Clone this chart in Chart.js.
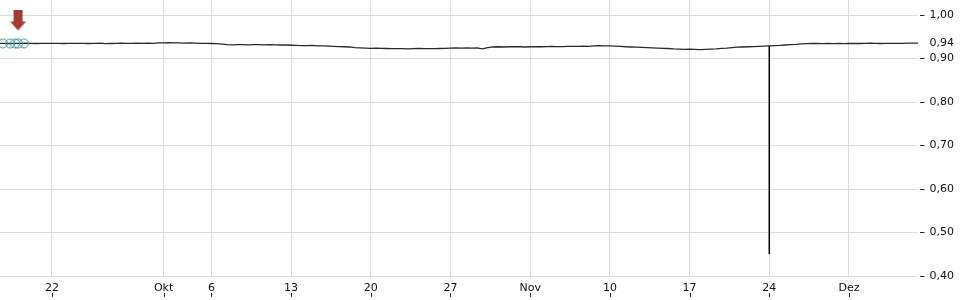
<!DOCTYPE html>
<html><head><meta charset="utf-8">
<script src="https://cdn.jsdelivr.net/npm/chart.js@4/dist/chart.umd.min.js"></script>
<style>html,body{margin:0;padding:0;background:#fff}#wrap{width:960px;height:300px}</style>
</head><body><div id="wrap"><canvas id="c" width="960" height="300"></canvas></div>
<script>
// ---- data ----
const tradingDays = ['16.09.','17.09.','18.09.','19.09.','22.09.','23.09.','24.09.','25.09.','26.09.','29.09.','30.09.',
  '01.10.','02.10.','03.10.','06.10.','07.10.','08.10.','09.10.','10.10.','13.10.','14.10.','15.10.','16.10.','17.10.',
  '20.10.','21.10.','22.10.','23.10.','24.10.','27.10.','28.10.','29.10.','30.10.','31.10.',
  '03.11.','04.11.','05.11.','06.11.','07.11.','10.11.','11.11.','12.11.','13.11.','14.11.','17.11.','18.11.','19.11.',
  '20.11.','21.11.','24.11.','25.11.','26.11.','27.11.','28.11.','01.12.','02.12.','03.12.','04.12.','05.12.'];
// intraday readings per trading day (three per session, last session partial)
const quotes = [
  [0.935,0.935,0.9345],[0.935,0.9345,0.935],[0.935,0.9355,0.935],[0.9345,0.935,0.935],
  [0.935,0.935,0.9345],[0.935,0.935,0.935],[0.935,0.9345,0.935],[0.9355,0.934,0.9345],[0.935,0.9355,0.935],
  [0.935,0.9355,0.935],[0.9355,0.935,0.936],
  [0.936,0.9365,0.936],[0.936,0.9355,0.936],[0.9355,0.935,0.935],[0.9345,0.934,0.933],[0.932,0.9315,0.932],
  [0.932,0.9315,0.932],[0.932,0.9315,0.932],[0.9315,0.931,0.931],[0.9305,0.930,0.9295],[0.9295,0.930,0.929],
  [0.929,0.9285,0.928],[0.9275,0.927,0.9265],[0.925,0.9245,0.924],
  [0.9235,0.924,0.9235],[0.923,0.9225,0.9225],[0.9225,0.922,0.9225],[0.923,0.9225,0.9225],[0.9225,0.923,0.9235],
  [0.924,0.9245,0.924],[0.9245,0.924,0.9245],[0.922,0.925,0.9265],[0.927,0.9265,0.927],[0.927,0.927,0.9265],
  [0.927,0.9275,0.927],[0.9275,0.928,0.9275],[0.9275,0.928,0.928],[0.928,0.9285,0.928],[0.929,0.9295,0.929],
  [0.929,0.9285,0.928],[0.927,0.9265,0.926],[0.9255,0.925,0.9245],[0.924,0.9235,0.923],[0.922,0.9215,0.921],
  [0.9215,0.921,0.9205],[0.921,0.9215,0.922],[0.9235,0.924,0.925],
  [0.926,0.9265,0.927],[0.9275,0.928,0.9285],[0.929,0.9295,0.930],[0.931,0.932,0.9325],[0.9335,0.934,0.9345],
  [0.9345,0.934,0.9345],[0.934,0.9345,0.934],[0.9345,0.935,0.9345],[0.935,0.9355,0.935],[0.9345,0.935,0.935],
  [0.935,0.935,0.9355],[0.9355,0.9355]
];
const tickDates  = ['22.09.','01.10.','06.10.','13.10.','20.10.','27.10.','03.11.','10.11.','17.11.','24.11.','01.12.'];
const tickLabels = ['22','Okt','6','13','20','27','Nov','10','17','24','Dez'];
const yTickValues = [0.4,0.5,0.6,0.7,0.8,0.9,1.0];
const spikeDay = '24.11.';
const spikeLow = 0.45;
const signalDays = ['16.09.','17.09.','17.09.','17.09.','18.09.'];
const signalTimeOfDay = [0.93,0.37,0.68,0.87,0.24];
const signalValues = [0.9345,0.9345,0.9345,0.9345,0.9345];
const arrowSignalIndex = 3;

// ---- build ----
const linePts = [];
quotes.forEach((q, d) => q.forEach((v, k) => linePts.push({x: d + k / 3, y: v})));
const sd = tradingDays.indexOf(spikeDay);
const spikePts = [{x: sd, y: quotes[sd][0]}, {x: sd, y: spikeLow}];
const sigPts = signalDays.map((d, i) => ({x: tradingDays.indexOf(d) + signalTimeOfDay[i], y: signalValues[i]}));
const lastValue = linePts[linePts.length - 1].y;

function makeArrow(color) {
  const c = document.createElement('canvas');
  c.width = 17; c.height = 66;
  const g = c.getContext('2d');
  g.fillStyle = color;
  g.fillRect(4, 0, 9, 12);
  g.beginPath(); g.moveTo(0.5, 11); g.lineTo(16.5, 11); g.lineTo(8.5, 20); g.closePath(); g.fill();
  return c;
}
const FONT = {family: 'DejaVu Sans', size: 11};
const TXT = '#111';
function noPad(s) { s.paddingLeft = 0; s.paddingRight = 0; s.paddingTop = 0; s.paddingBottom = 0; }

const extras = {
  id: 'extras',
  afterDraw(chart) {
    const ctx = chart.ctx, xs = chart.scales.x, ys = chart.scales.y;
    ctx.save();
    ctx.strokeStyle = '#222'; ctx.lineWidth = 1;
    xs.ticks.forEach(t => {
      const px = Math.round(xs.getPixelForValue(t.value)) + 0.5;
      ctx.beginPath(); ctx.moveTo(px, xs.bottom - 7); ctx.lineTo(px, xs.bottom - 3); ctx.stroke();
    });
    ctx.fillStyle = TXT;
    ctx.font = '11px "DejaVu Sans"';
    ctx.textBaseline = 'middle'; ctx.textAlign = 'left';
    ctx.fillText(lastValue.toFixed(2).replace('.', ','), ys.left + 7 + 4.5, ys.getPixelForValue(lastValue));
    ctx.restore();
  }
};

new Chart(document.getElementById('c'), {
  type: 'line',
  data: {datasets: [
    {data: sigPts.slice(arrowSignalIndex, arrowSignalIndex + 1), showLine: false, pointStyle: makeArrow('#a33a36'), pointRadius: 8, order: 0, clip: false},
    {data: sigPts, showLine: false, pointStyle: 'circle', pointRadius: 4.5, borderColor: 'rgb(70,155,160)', backgroundColor: 'rgba(0,0,0,0)', pointBorderWidth: 1, order: 1, clip: false},
    {data: spikePts, borderColor: '#000', borderWidth: 1.5, pointRadius: 0, order: 2},
    {data: linePts, borderColor: '#2a2a2a', borderWidth: 1.3, pointRadius: 0, tension: 0, order: 3}
  ]},
  options: {
    responsive: false, animation: false, devicePixelRatio: 1,
    layout: {padding: 0, autoPadding: false},
    plugins: {legend: {display: false}, tooltip: {enabled: false}},
    scales: {
      x: {
        type: 'linear', min: 0.738, max: 58.33,
        afterBuildTicks: s => { s.ticks = tickDates.map(d => ({value: tradingDays.indexOf(d)})); },
        afterFit: s => { s.height = 24; noPad(s); },
        border: {display: false},
        grid: {color: '#dcdcdc', drawTicks: false},
        ticks: {padding: 6, autoSkip: false, maxRotation: 0, color: TXT, font: FONT, callback: (v, i) => tickLabels[i]}
      },
      y: {
        position: 'right', min: 0.4, max: 1.0345,
        afterBuildTicks: s => { s.ticks = yTickValues.map(v => ({value: v})); },
        afterFit: s => { s.width = 42; noPad(s); },
        border: {display: false},
        grid: {color: '#dcdcdc', drawTicks: true, tickLength: 7, tickColor: '#222', tickBorderDash: [0, 2, 4.5, 20], tickWidth: 1},
        ticks: {padding: 4.5, autoSkip: false, color: TXT, font: FONT, callback: v => Number(v).toFixed(2).replace('.', ',')}
      }
    }
  },
  plugins: [extras]
});
</script>
</body></html>
